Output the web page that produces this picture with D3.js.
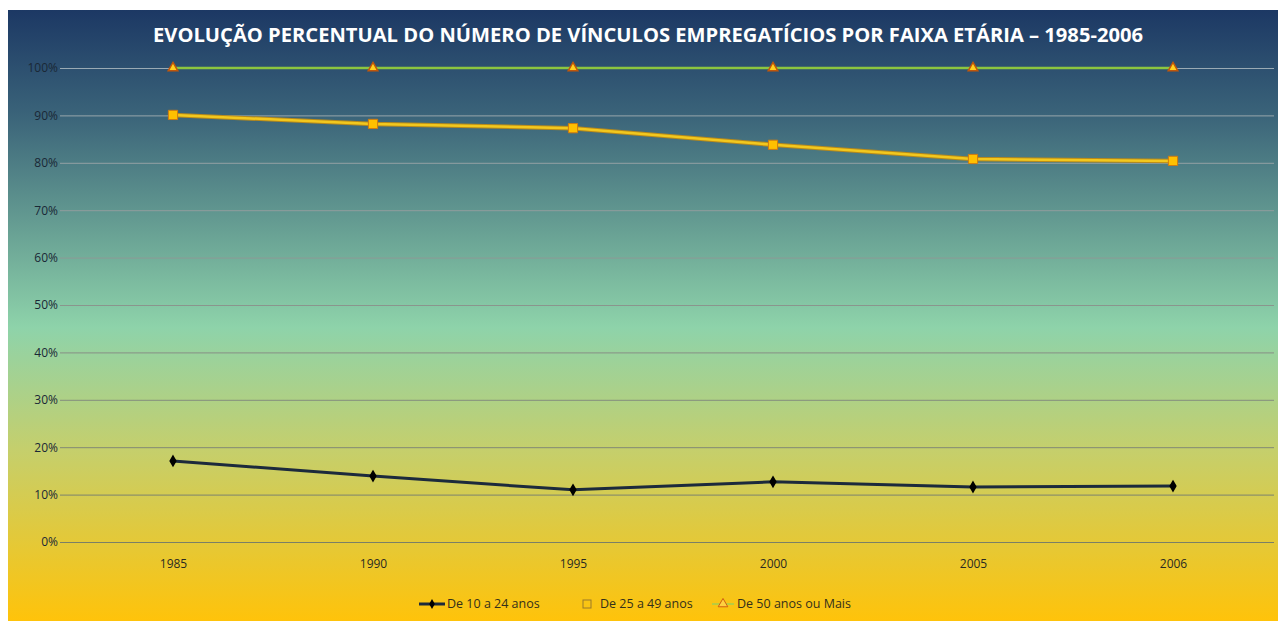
<!DOCTYPE html>
<html>
<head>
<meta charset="utf-8">
<script src="https://cdn.jsdelivr.net/npm/d3@7"></script>
<style>
  body { margin: 0; background: #fff; }
  svg { display: block; }
</style>
</head>
<body>
<div id="chart"></div>
<script>
// data
var years = ["1985", "1990", "1995", "2000", "2005", "2006"];
var jovens = [17.1, 13.9, 11.0, 12.7, 11.6, 11.8];   // De 10 a 24 anos
var adultos = [90.1, 88.2, 87.3, 83.8, 80.8, 80.4];  // De 25 a 49 anos
var maduros = [100, 100, 100, 100, 100, 100];        // De 50 anos ou Mais
var yTicks = [0, 10, 20, 30, 40, 50, 60, 70, 80, 90, 100];
var seriesNames = ["De 10 a 24 anos", "De 25 a 49 anos", "De 50 anos ou Mais"];

var W = 1278, H = 621;
var x0 = 73, x1 = 1273, yTop = 68, yBot = 542;

var svg = d3.select("#chart").append("svg")
    .attr("width", W)
    .attr("height", H);

// background gradient
var defs = svg.append("defs");
var grad = defs.append("linearGradient")
    .attr("id", "bg")
    .attr("x1", 0).attr("y1", 0).attr("x2", 0).attr("y2", 1);
[[0, "#1c3864"], [0.17, "#3a6379"], [0.52, "#8ed3aa"], [0.72, "#c5cf6c"], [1, "#ffc30a"]]
  .forEach(function(s) {
    grad.append("stop").attr("offset", s[0]).attr("stop-color", s[1]);
  });

svg.append("rect")
    .attr("x", 8).attr("y", 10)
    .attr("width", W - 8).attr("height", H - 10)
    .attr("fill", "url(#bg)");

var x = d3.scalePoint()
    .domain(years)
    .range([x0, x1])
    .padding(0.5);

var y = d3.scaleLinear()
    .domain([0, 100])
    .range([yBot, yTop]);

// gridlines: lighter on the dark top, darker on the yellow bottom
var gridCol = d3.scaleLinear().domain([0, 100]).range(["#7a7f66", "#9aaab4"]);
svg.append("g")
    .selectAll("line")
    .data(yTicks)
  .enter().append("line")
    .attr("x1", 60).attr("x2", 1274)
    .attr("y1", function(d) { return y(d) + 0.5; })
    .attr("y2", function(d) { return y(d) + 0.5; })
    .attr("stroke", function(d) { return gridCol(d); })
    .attr("stroke-width", 1);

// y axis labels
var yAxis = d3.axisLeft(y)
    .tickValues(yTicks)
    .tickSize(0)
    .tickPadding(0)
    .tickFormat(function(d) { return d + "%"; });

var gy = svg.append("g")
    .attr("transform", "translate(58,0)")
    .call(yAxis);
gy.select(".domain").remove();
gy.selectAll("text")
    .attr("fill", "#1a2836")
    .style("font-family", "'Open Sans', sans-serif")
    .style("font-size", "12px");

// x axis labels
var xAxis = d3.axisBottom(x).tickSize(0).tickPadding(0);
var gx = svg.append("g")
    .attr("transform", "translate(0,559)")
    .call(xAxis);
gx.select(".domain").remove();
gx.selectAll("text")
    .attr("fill", "#2a2a22")
    .style("font-family", "'Open Sans', sans-serif")
    .style("font-size", "12px");

// title
svg.append("text")
    .attr("x", 648)
    .attr("y", 42)
    .attr("text-anchor", "middle")
    .attr("fill", "#ffffff")
    .attr("textLength", 990)
    .attr("lengthAdjust", "spacingAndGlyphs")
    .style("font-family", "'Open Sans', sans-serif")
    .style("font-weight", "bold")
    .style("font-size", "19px")
    .text("EVOLUÇÃO PERCENTUAL DO NÚMERO DE VÍNCULOS EMPREGATÍCIOS POR FAIXA ETÁRIA – 1985-2006");

var line = d3.line()
    .x(function(d, i) { return x(years[i]); })
    .y(function(d) { return y(d); });

// 50+ series
svg.append("path")
    .datum(maduros)
    .attr("d", line)
    .attr("fill", "none")
    .attr("stroke", "#8cc63f")
    .attr("stroke-width", 2.5);

// 25-49 series
svg.append("path")
    .datum(adultos)
    .attr("d", line)
    .attr("fill", "none")
    .attr("stroke", "#b88a1a")
    .attr("stroke-width", 4.5);
svg.append("path")
    .datum(adultos)
    .attr("d", line)
    .attr("fill", "none")
    .attr("stroke", "#f2c81e")
    .attr("stroke-width", 2.5);

// 10-24 series
svg.append("path")
    .datum(jovens)
    .attr("d", line)
    .attr("fill", "none")
    .attr("stroke", "#1c2a3c")
    .attr("stroke-width", 3);

// markers
var tri = d3.symbol().type(d3.symbolTriangle).size(40);
var sq = d3.symbol().type(d3.symbolSquare).size(85);
var dia = d3.symbol().type(d3.symbolDiamond).size(28);

svg.append("g").selectAll("path")
    .data(maduros)
  .enter().append("path")
    .attr("transform", function(d, i) { return "translate(" + x(years[i]) + "," + y(d) + ")"; })
    .attr("d", tri)
    .attr("fill", "#ffd020")
    .attr("stroke", "#c0560a")
    .attr("stroke-width", 1.5);

svg.append("g").selectAll("path")
    .data(adultos)
  .enter().append("path")
    .attr("transform", function(d, i) { return "translate(" + x(years[i]) + "," + y(d) + ")"; })
    .attr("d", sq)
    .attr("fill", "#ffc000")
    .attr("stroke", "#d07a10")
    .attr("stroke-width", 1);

svg.append("g").selectAll("path")
    .data(jovens)
  .enter().append("path")
    .attr("transform", function(d, i) { return "translate(" + x(years[i]) + "," + y(d) + ")"; })
    .attr("d", dia)
    .attr("fill", "#000")
    .attr("stroke", "#000")
    .attr("stroke-width", 1.5);

// legend
var leg = svg.append("g")
    .style("font-family", "'Open Sans', sans-serif")
    .style("font-size", "12.5px");

leg.append("line")
    .attr("x1", 419).attr("x2", 445).attr("y1", 604).attr("y2", 604)
    .attr("stroke", "#1c2a3c").attr("stroke-width", 3);
leg.append("path")
    .attr("transform", "translate(432,604)")
    .attr("d", dia).attr("fill", "#000");
leg.append("text")
    .attr("x", 447).attr("y", 608)
    .attr("fill", "#34301a")
    .text(seriesNames[0]);

leg.append("rect")
    .attr("x", 583).attr("y", 600).attr("width", 8).attr("height", 8)
    .attr("fill", "none").attr("stroke", "#9a7a2a").attr("stroke-width", 1);
leg.append("text")
    .attr("x", 600).attr("y", 608)
    .attr("fill", "#34301a")
    .text(seriesNames[1]);

leg.append("line")
    .attr("x1", 712).attr("x2", 734).attr("y1", 604).attr("y2", 604)
    .attr("stroke", "#b8cc40").attr("stroke-width", 2);
leg.append("path")
    .attr("transform", "translate(723,604)")
    .attr("d", tri).attr("fill", "#ffd040").attr("stroke", "#d06010").attr("stroke-width", 1);
leg.append("text")
    .attr("x", 737).attr("y", 608)
    .attr("fill", "#34301a")
    .text(seriesNames[2]);
</script>
</body>
</html>
